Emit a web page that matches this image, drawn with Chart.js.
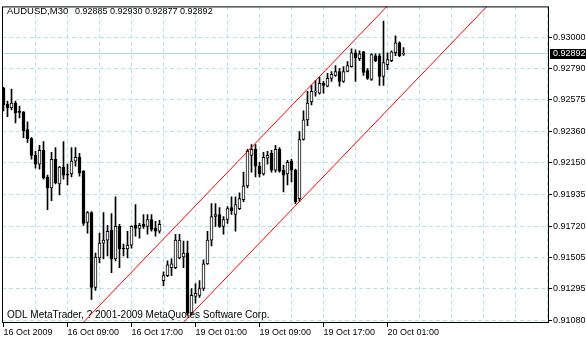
<!DOCTYPE html>
<html>
<head>
<meta charset="utf-8">
<title>AUDUSD,M30</title>
<script src="https://cdn.jsdelivr.net/npm/chart.js@4.4.1/dist/chart.umd.min.js"></script>
<style>
  html, body { margin: 0; padding: 0; background: #fff; }
  canvas { display: block; }
</style>
</head>
<body>
<canvas id="chart" width="586" height="340"></canvas>
<script>
const symbol = "AUDUSD,M30";
const copyright = "ODL MetaTrader, ? 2001-2009 MetaQuotes Software Corp.";

// M30 bars, index 0 = 16 Oct 2009 01:00
const open = [0.92654,0.92547,0.92521,0.92554,0.92494,0.92494,0.92374,0.92313,0.92200,0.92140,
  0.92233,0.92053,0.91979,0.92173,0.92006,0.92120,0.92073,0.92073,0.92160,0.92186,
  0.92093,0.91745,0.91812,0.91304,0.91505,0.91605,0.91625,0.91692,0.91498,0.91718,
  0.91571,0.91565,0.91591,0.91725,0.91705,0.91732,0.91718,0.91765,0.91705,0.91685,
  0.91351,0.91384,0.91438,0.91438,0.91505,0.91511,0.91538,0.91130,0.91244,0.91251,
  0.91297,0.91464,0.91625,0.91785,0.91799,0.91718,0.91765,0.91845,0.91799,0.91839,
  0.91899,0.91993,0.92200,0.92240,0.92126,0.92073,0.92180,0.92213,0.92100,0.92240,
  0.92100,0.92073,0.92160,0.92100,0.91906,0.92307,0.92440,0.92561,0.92628,0.92621,
  0.92688,0.92668,0.92721,0.92741,0.92768,0.92701,0.92768,0.92801,0.92895,0.92855,
  0.92902,0.92775,0.92715,0.92875,0.92875,0.92735,0.92815,0.92842,0.92895,0.92962,
  0.92885];
const high = [0.92661,0.92567,0.92648,0.92567,0.92534,0.92497,0.92427,0.92320,0.92227,0.92267,
  0.92293,0.92066,0.92220,0.92253,0.92126,0.92293,0.92140,0.92253,0.92253,0.92213,
  0.92096,0.91819,0.91819,0.91538,0.91672,0.91812,0.91725,0.91805,0.91919,0.91732,
  0.91598,0.91685,0.91722,0.91866,0.91739,0.91799,0.91799,0.91799,0.91752,0.91759,
  0.91411,0.91484,0.91498,0.91665,0.91665,0.91618,0.91618,0.91297,0.91331,0.91351,
  0.91491,0.91685,0.91872,0.91872,0.91845,0.91785,0.91852,0.91919,0.91919,0.91946,
  0.92086,0.92240,0.92273,0.92273,0.92153,0.92220,0.92227,0.92233,0.92267,0.92253,
  0.92133,0.92166,0.92173,0.92106,0.92360,0.92501,0.92634,0.92674,0.92708,0.92728,
  0.92701,0.92755,0.92768,0.92808,0.92788,0.92801,0.92835,0.92922,0.92915,0.92908,
  0.92905,0.92788,0.92888,0.92888,0.92888,0.93109,0.92895,0.92908,0.93009,0.92969,
  0.92930];
const low = [0.92501,0.92461,0.92507,0.92420,0.92454,0.92320,0.92287,0.92173,0.92113,0.92106,
  0.92039,0.91832,0.91892,0.92006,0.91932,0.92039,0.91999,0.92053,0.92126,0.92059,
  0.91725,0.91672,0.91224,0.91284,0.91471,0.91498,0.91518,0.91404,0.91484,0.91438,
  0.91518,0.91505,0.91571,0.91652,0.91638,0.91705,0.91665,0.91685,0.91652,0.91672,
  0.91317,0.91378,0.91384,0.91431,0.91498,0.91438,0.91117,0.91117,0.91197,0.91237,
  0.91284,0.91460,0.91585,0.91718,0.91712,0.91665,0.91739,0.91799,0.91685,0.91832,
  0.91886,0.91979,0.92086,0.92053,0.92053,0.92066,0.92140,0.92086,0.92086,0.92086,
  0.91952,0.91999,0.92019,0.91872,0.91886,0.92303,0.92400,0.92541,0.92601,0.92614,
  0.92621,0.92664,0.92701,0.92735,0.92668,0.92694,0.92765,0.92798,0.92701,0.92842,
  0.92741,0.92715,0.92708,0.92835,0.92674,0.92674,0.92781,0.92835,0.92875,0.92868,
  0.92877];
const close = [0.92541,0.92521,0.92554,0.92487,0.92491,0.92367,0.92313,0.92200,0.92140,0.92233,
  0.92046,0.91979,0.92173,0.92013,0.92120,0.92066,0.92066,0.92160,0.92186,0.92080,
  0.91739,0.91812,0.91304,0.91511,0.91605,0.91625,0.91685,0.91498,0.91718,0.91565,
  0.91565,0.91591,0.91718,0.91705,0.91725,0.91718,0.91765,0.91698,0.91685,0.91732,
  0.91384,0.91458,0.91464,0.91625,0.91625,0.91538,0.91130,0.91251,0.91264,0.91297,
  0.91464,0.91625,0.91785,0.91799,0.91718,0.91765,0.91839,0.91825,0.91866,0.91906,
  0.91993,0.92227,0.92240,0.92126,0.92073,0.92186,0.92200,0.92100,0.92240,0.92093,
  0.92066,0.92153,0.92100,0.91886,0.92307,0.92440,0.92554,0.92634,0.92634,0.92688,
  0.92674,0.92721,0.92748,0.92768,0.92701,0.92768,0.92808,0.92895,0.92862,0.92888,
  0.92761,0.92721,0.92882,0.92842,0.92735,0.92828,0.92848,0.92902,0.92962,0.92875,
  0.92892];

const timeLabelBars = [0, 16, 32, 48, 64, 80, 96];
const timeLabels = ["16 Oct 2009", "16 Oct 09:00", "16 Oct 17:00", "19 Oct 01:00", "19 Oct 09:00", "19 Oct 17:00", "20 Oct 01:00"];
const priceTicks = [0.93000, 0.92790, 0.92575, 0.92360, 0.92150, 0.91935, 0.91720, 0.91505, 0.91295, 0.91080];

// equidistant channel: bar index and price at both ends of each ray
const channelUpperBars = [15, 100];
const channelUpper = [0.90928, 0.93326];
const channelLowerBars = [40, 125];
const channelLower = [0.90928, 0.93326];

const gridColor = "#b0e6e6";
const bidColor = "#a4e4e4";
const font = { family: "'Liberation Sans', Arial, sans-serif", size: 9 };

const bars = open.map((v, i) => i);
const wicks = bars.map(i => ({ x: i, y: [low[i], high[i]] }));
const bodies = bars.map(i => ({ x: i, y: [open[i], close[i]] }));
const bodyColors = bars.map(i => close[i] >= open[i] ? "#ffffff" : "#000000");

const gridBars = [];
for (let b = 0; b <= 136; b += 8) gridBars.push(b);

const last = close.length - 1;

const decorations = {
  id: "decorations",
  beforeDatasetsDraw(chart) {
    const { ctx, chartArea: a, scales: { y } } = chart;
    const yb = Math.round(y.getPixelForValue(close[last])) + 0.5;
    ctx.save();
    ctx.strokeStyle = bidColor;
    ctx.lineWidth = 1;
    ctx.beginPath();
    ctx.moveTo(a.left, yb);
    ctx.lineTo(a.right, yb);
    ctx.stroke();
    ctx.restore();
  },
  afterDraw(chart) {
    const { ctx, chartArea: a, scales: { y } } = chart;
    ctx.save();
    ctx.strokeStyle = "#000";
    ctx.lineWidth = 1;
    ctx.strokeRect(a.left + 0.5, a.top + 0.5, a.right - a.left, a.bottom - a.top - 1);

    const yb = Math.round(y.getPixelForValue(close[last]));
    ctx.fillStyle = "#000";
    ctx.fillRect(a.right + 2, yb - 4, 586 - a.right - 2, 10);
    ctx.fillStyle = "#fff";
    ctx.font = "9px 'Liberation Sans', Arial, sans-serif";
    ctx.textBaseline = "middle";
    ctx.fillText(close[last].toFixed(5), a.right + 5, yb + 1);

    ctx.fillStyle = "#000";
    ctx.textBaseline = "alphabetic";
    ctx.font = "9.5px 'Liberation Sans', Arial, sans-serif";
    ctx.fillText(symbol, 7, 14);
    ctx.font = "9px 'Liberation Sans', Arial, sans-serif";
    ctx.fillText([open[last], high[last], low[last], close[last]].map(v => v.toFixed(5)).join(" "), 75, 14);
    ctx.font = "10px 'Liberation Sans', Arial, sans-serif";
    ctx.fillText(copyright, 7, 317.5);
    ctx.restore();
  }
};

new Chart(document.getElementById("chart"), {
  type: "bar",
  data: {
    datasets: [
      {
        type: "line",
        data: channelUpperBars.map((b, k) => ({ x: b, y: channelUpper[k] })),
        borderColor: "#ff0000",
        borderWidth: 1,
        pointRadius: 0,
        clip: 0,
        order: 0
      },
      {
        type: "line",
        data: channelLowerBars.map((b, k) => ({ x: b, y: channelLower[k] })),
        borderColor: "#ff0000",
        borderWidth: 1,
        pointRadius: 0,
        clip: 0,
        order: 0
      },
      {
        data: bodies,
        backgroundColor: bodyColors,
        borderColor: "#000",
        borderWidth: 1,
        borderSkipped: false,
        barThickness: 3,
        maxBarThickness: 3,
        minBarLength: 1,
        grouped: false,
        order: 1
      },
      {
        data: wicks,
        backgroundColor: "#000",
        borderWidth: 0,
        barThickness: 1,
        maxBarThickness: 1,
        grouped: false,
        order: 2
      }
    ]
  },
  options: {
    responsive: false,
    devicePixelRatio: 1,
    animation: false,
    events: [],
    layout: { padding: { left: 2, top: 2, right: 0, bottom: 0 } },
    plugins: { legend: { display: false }, tooltip: { enabled: false } },
    scales: {
      x: {
        type: "linear",
        min: -0.375,
        max: 136.125,
        offset: false,
        afterBuildTicks: s => { s.ticks = gridBars.map(v => ({ value: v })); },
        afterFit: s => { s.height = 17; },
        grid: {
          offset: false,
          color: c => (c.tick && c.tick.value > 0 ? gridColor : "rgba(0,0,0,0)"),
          tickLength: 4,
          tickColor: c => (c.tick && timeLabelBars.includes(c.tick.value) ? "#000" : "rgba(0,0,0,0)"),
          tickBorderDash: []
        },
        border: { display: false, dash: [4, 3] },
        ticks: {
          autoSkip: false,
          maxRotation: 0,
          align: "start",
          padding: 0,
          color: "#000",
          font: font,
          callback: v => {
            const k = timeLabelBars.indexOf(v);
            return k >= 0 ? timeLabels[k] : "";
          }
        }
      },
      y: {
        position: "right",
        beginAtZero: false,
        min: 0.910634,
        max: 0.932092,
        afterBuildTicks: s => { s.ticks = priceTicks.map(v => ({ value: v })); },
        afterFit: s => { s.width = 38; },
        grid: { color: gridColor, tickLength: 4, tickColor: "#000", tickBorderDash: [] },
        border: { display: false, dash: [4, 3] },
        ticks: { padding: 1, color: "#000", font: font, callback: v => v.toFixed(5) }
      }
    }
  },
  plugins: [decorations]
});
</script>
</body>
</html>
